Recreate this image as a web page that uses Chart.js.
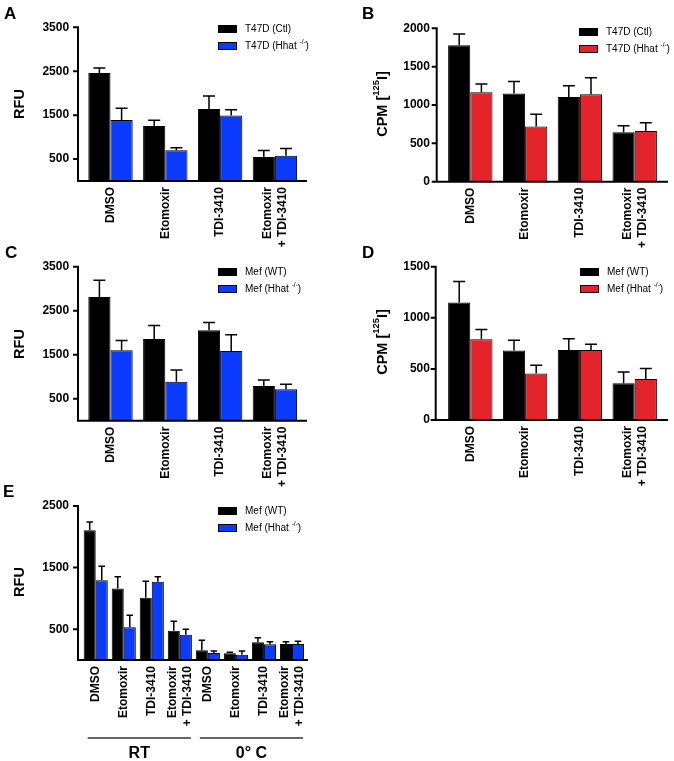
<!DOCTYPE html>
<html>
<head>
<meta charset="utf-8"/>
<style>
  body { margin: 0; padding: 0; background: #fff; }
  #wrap { position: relative; width: 674px; height: 761px; }
  canvas { position: absolute; left: 0; top: 0; }
</style>
</head>
<body>
<div id="wrap">
  <canvas id="chA" width="674" height="761"></canvas>
  <canvas id="chB" width="674" height="761"></canvas>
  <canvas id="chC" width="674" height="761"></canvas>
  <canvas id="chD" width="674" height="761"></canvas>
  <canvas id="chE" width="674" height="761"></canvas>
</div>
<script src="https://cdn.jsdelivr.net/npm/chart.js@4.4.1/dist/chart.umd.min.js"></script>
<script>
// categories
var treatments = ['DMSO', 'Etomoxir', 'TDI-3410', ['Etomoxir', '+ TDI-3410']];
var treatmentsE = treatments.concat(treatments);
var groupNamesE = ['RT', '0\u00b0 C'];

// A: T47D, RFU
var aCtl = [2460, 1250, 1640, 545];
var aCtlErr = [115, 135, 295, 150];
var aKo = [1390, 700, 1490, 575];
var aKoErr = [265, 60, 135, 165];
var aTicks = [500, 1500, 2500, 3500];

// B: T47D, CPM
var bCtl = [1780, 1150, 1105, 645];
var bCtlErr = [145, 155, 145, 85];
var bKo = [1165, 720, 1140, 660];
var bKoErr = [110, 160, 215, 110];
var bTicks = [0, 500, 1000, 1500, 2000];

// C: Mef, RFU
var cWt = [2810, 1855, 2055, 790];
var cWtErr = [380, 310, 175, 135];
var cKo = [1600, 885, 1585, 715];
var cKoErr = [225, 265, 370, 115];
var cTicks = [500, 1500, 2500, 3500];

// D: Mef, CPM
var dWt = [1150, 680, 685, 360];
var dWtErr = [205, 100, 110, 110];
var dKo = [790, 455, 685, 400];
var dKoErr = [95, 80, 55, 105];
var dTicks = [0, 500, 1000, 1500];

// E: Mef, RFU, RT then 0 C
var eWt = [2105, 1160, 1010, 475, 160, 110, 290, 260];
var eWtErr = [135, 190, 270, 155, 160, 15, 70, 35];
var eKo = [1295, 530, 1270, 410, 115, 85, 255, 260];
var eKoErr = [225, 195, 80, 90, 30, 60, 40, 45];
var eTicks = [500, 1500, 2500];

var FONT = '"Liberation Sans", Arial, Helvetica, sans-serif';
var BLUE = '#0b3bff';
var RED = '#e3252b';
var W = 674, H = 761, YW = 60;
Chart.defaults.font.family = FONT;

// text with ^sup^ parts
function drawRich(ctx, text, x, y, size, weight, align) {
  var parts = text.split('^');
  var widths = parts.map(function (t, i) {
    ctx.font = weight + ' ' + (i % 2 ? size * 0.65 : size) + 'px ' + FONT;
    return ctx.measureText(t).width;
  });
  var total = widths.reduce(function (a, b) { return a + b; }, 0);
  var cx = align === 'center' ? x - total / 2 : x;
  ctx.textAlign = 'left';
  ctx.textBaseline = 'middle';
  parts.forEach(function (t, i) {
    ctx.font = weight + ' ' + (i % 2 ? size * 0.65 : size) + 'px ' + FONT;
    ctx.fillText(t, cx, i % 2 ? y - size * 0.4 : y);
    cx += widths[i];
  });
}

function decor(p) {
  return {
    id: 'decor',
    afterDraw: function (chart) {
      var ctx = chart.ctx, xs = chart.scales.x, ys = chart.scales.y;
      var y0 = ys.getPixelForValue(0), yTop = ys.getPixelForValue(p.max);
      ctx.save();
      ctx.strokeStyle = '#000';
      ctx.fillStyle = '#000';

      // error bars (upper half only)
      chart.data.datasets.forEach(function (ds, di) {
        chart.getDatasetMeta(di).data.forEach(function (bar, i) {
          var top = ys.getPixelForValue(ds.data[i] + ds.errors[i]);
          var cap = bar.width * 0.27;
          ctx.beginPath();
          ctx.moveTo(bar.x, bar.y);
          ctx.lineTo(bar.x, top);
          ctx.moveTo(bar.x - cap, top);
          ctx.lineTo(bar.x + cap, top);
          ctx.lineWidth = 1.5;
          ctx.stroke();
        });
      });

      // axes
      ctx.lineWidth = 2;
      ctx.beginPath();
      ctx.moveTo(p.axisX, yTop - 1);
      ctx.lineTo(p.axisX, y0);
      ctx.lineTo(p.axisEnd, y0);
      ys.ticks.forEach(function (t) {
        var y = ys.getPixelForValue(t.value);
        ctx.moveTo(p.axisX - 5, y);
        ctx.lineTo(p.axisX, y);
      });
      ctx.stroke();

      // category labels, rotated
      ctx.font = 'bold 12px ' + FONT;
      ctx.textAlign = 'right';
      ctx.textBaseline = 'middle';
      chart.data.labels.forEach(function (lab, i) {
        var lines = Array.isArray(lab) ? lab : [lab];
        var cx = xs.getPixelForValue(i);
        lines.forEach(function (ln, k) {
          ctx.save();
          ctx.translate(cx + (k - (lines.length - 1) / 2) * 15, y0 + 6);
          ctx.rotate(-Math.PI / 2);
          ctx.fillText(ln, 0, 0);
          ctx.restore();
        });
      });

      // legend
      chart.data.datasets.forEach(function (ds, k) {
        var bx = p.legend[0], by = p.legend[1] + k * 17;
        ctx.fillStyle = ds.backgroundColor;
        ctx.fillRect(bx, by, 19, 8);
        ctx.lineWidth = 1;
        ctx.strokeRect(bx + 0.5, by + 0.5, 18, 7);
        ctx.fillStyle = '#000';
        drawRich(ctx, ds.label, bx + 27, by + 4.5, 10, 'normal', 'left');
      });

      // y title
      ctx.save();
      ctx.translate(p.title[0], p.title[1]);
      ctx.rotate(-Math.PI / 2);
      drawRich(ctx, p.title[2], 0, 0, 14.5, 'bold', 'center');
      ctx.restore();

      // panel letter
      ctx.font = 'bold 17px ' + FONT;
      ctx.textAlign = 'left';
      ctx.textBaseline = 'alphabetic';
      ctx.fillText(p.letter[2], p.letter[0], p.letter[1]);

      // group brackets (panel E)
      if (p.groups) {
        p.groups.forEach(function (g) {
          var x1 = xs.getPixelForValue(g.from) - 8;
          var x2 = xs.getPixelForValue(g.to) + 11;
          ctx.beginPath();
          ctx.moveTo(x1, 738);
          ctx.lineTo(x2, 738);
          ctx.lineWidth = 1.5;
          ctx.strokeStyle = '#333';
          ctx.stroke();
          ctx.font = 'bold 16px ' + FONT;
          ctx.textAlign = 'center';
          ctx.fillText(g.name, (x1 + x2) / 2, 758);
        });
      }
      ctx.restore();
    }
  };
}

function makePanel(p) {
  return new Chart(document.getElementById(p.id), {
    type: 'bar',
    data: {
      labels: p.labels,
      datasets: p.series.map(function (s) {
        return {
          label: s[0], data: s[1], errors: s[2],
          backgroundColor: s[3], borderColor: '#000', borderWidth: 1,
          categoryPercentage: p.catPct, barPercentage: 1
        };
      })
    },
    options: {
      responsive: false,
      animation: false,
      events: [],
      layout: { padding: { left: p.area[0] - YW, right: W - p.area[1], top: p.area[2], bottom: H - p.area[3] } },
      plugins: { legend: { display: false }, tooltip: { enabled: false } },
      scales: {
        x: { display: false, offset: true },
        y: {
          min: 0, max: p.max,
          afterBuildTicks: function (s) { s.ticks = p.ticks.map(function (v) { return { value: v }; }); },
          afterFit: function (s) { s.width = YW; s.paddingTop = 0; s.paddingBottom = 0; },
          grid: { display: false, drawTicks: false },
          border: { display: false },
          ticks: {
            autoSkip: false, padding: p.tickPad, color: '#000',
            font: { size: 12, weight: 'bold' },
            callback: function (v) { return String(v); }
          }
        }
      }
    },
    plugins: [decor(p)]
  });
}

makePanel({
  id: 'chA', labels: treatments, max: 3500, ticks: aTicks,
  area: [83.1, 302.3, 27.3, 181], axisX: 78, axisEnd: 307, tickPad: 14, catPct: 0.81,
  legend: [218, 25], title: [20, 104, 'RFU'], letter: [4, 19, 'A'],
  series: [['T47D (Ctl)', aCtl, aCtlErr, '#000'], ['T47D (Hhat ^-/-^)', aKo, aKoErr, BLUE]]
});
makePanel({
  id: 'chB', labels: treatments, max: 2000, ticks: bTicks,
  area: [442.9, 662.1, 28.3, 181.7], axisX: 436.7, axisEnd: 668, tickPad: 13, catPct: 0.81,
  legend: [579, 28], title: [382.5, 104, 'CPM [^125^I]'], letter: [362, 19, 'B'],
  series: [['T47D (Ctl)', bCtl, bCtlErr, '#000'], ['T47D (Hhat ^-/-^)', bKo, bKoErr, RED]]
});
makePanel({
  id: 'chC', labels: treatments, max: 3500, ticks: cTicks,
  area: [83.1, 302.3, 266.7, 420.7], axisX: 78, axisEnd: 307, tickPad: 14, catPct: 0.81,
  legend: [218, 268], title: [20, 344, 'RFU'], letter: [5, 258, 'C'],
  series: [['Mef (WT)', cWt, cWtErr, '#000'], ['Mef (Hhat ^-/-^)', cKo, cKoErr, BLUE]]
});
makePanel({
  id: 'chD', labels: treatments, max: 1500, ticks: dTicks,
  area: [442.9, 662.1, 266.7, 420], axisX: 435.7, axisEnd: 668, tickPad: 13, catPct: 0.81,
  legend: [580, 268], title: [382.5, 342, 'CPM [^125^I]'], letter: [362, 258, 'D'],
  series: [['Mef (WT)', dWt, dWtErr, '#000'], ['Mef (Hhat ^-/-^)', dKo, dKoErr, RED]]
});
makePanel({
  id: 'chE', labels: treatmentsE, max: 2500, ticks: eTicks,
  area: [81.7, 306, 506, 660], axisX: 78, axisEnd: 308, tickPad: 12.7, catPct: 0.86,
  legend: [218, 507], title: [20, 582, 'RFU'], letter: [3, 497, 'E'],
  groups: [{ name: groupNamesE[0], from: 0, to: 3 }, { name: groupNamesE[1], from: 4, to: 7 }],
  series: [['Mef (WT)', eWt, eWtErr, '#000'], ['Mef (Hhat ^-/-^)', eKo, eKoErr, BLUE]]
});
</script>
</body>
</html>
